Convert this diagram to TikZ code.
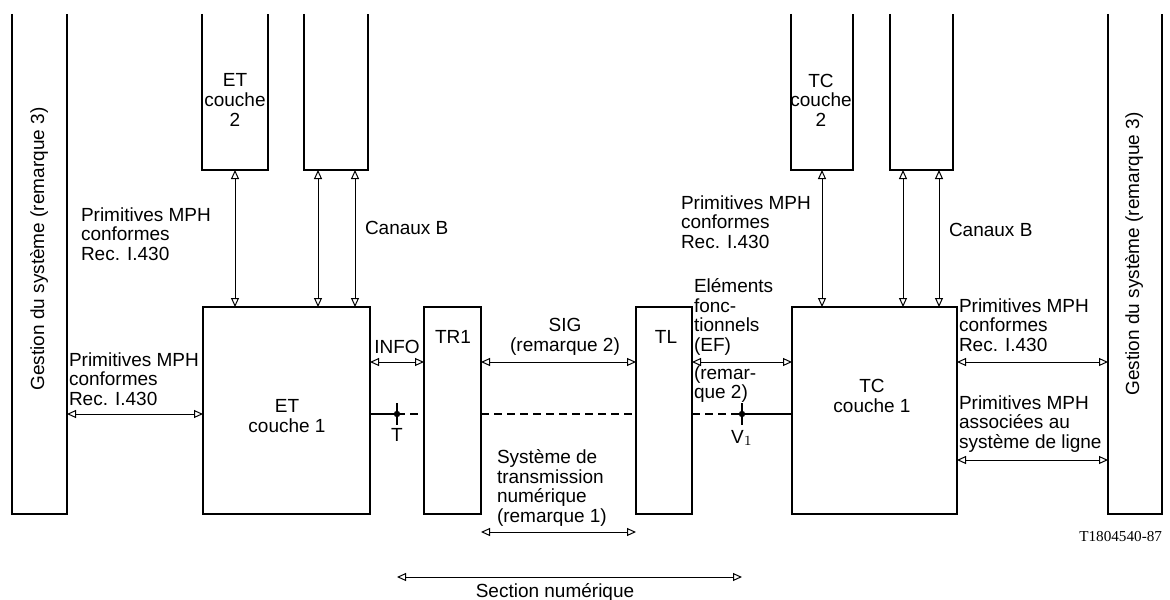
\documentclass[tikz,border=0pt]{standalone}
\usepackage{fontspec}
\setmainfont{Liberation Sans}
\newfontfamily\serialfont{Liberation Serif}
\usetikzlibrary{calc,arrows.meta}

\begin{document}
\begin{tikzpicture}[x=0.5pt,y=-0.5pt,every node/.style={inner sep=0pt,outer sep=0pt,font=\fontsize{9.5}{9.8}\selectfont}]
\tikzstyle{box}=[draw,line width=0.9pt,minimum height=103.5pt]
\tikzstyle{openbox}=[draw=none,minimum height=78pt]
\tikzstyle{bar}=[draw=none,minimum width=27.5pt,minimum height=250pt]
\tikzstyle{link}=[line width=0.5pt,{Triangle[open,length=4.5pt,width=4pt]}-{Triangle[open,length=4.5pt,width=4pt]}]
\tikzstyle{wire}=[line width=0.8pt,dash pattern=on 4pt off 2.5pt]
\tikzstyle{lbl}=[anchor=west,align=left]

\useasboundingbox (0,0) rectangle (1170,599);

% management bars
\node (gestL) [bar] at (39.5,264) {};
\draw [line width=0.9pt] (gestL.north west) |- (gestL.south east) -- (gestL.north east);
\node [rotate=90] at (39,249) {Gestion du système (remarque 3)};

\node (gestR) [bar,minimum width=27pt] at (1135,264) {};
\draw [line width=0.9pt] (gestR.north west) |- (gestR.south east) -- (gestR.north east);
\node [rotate=90] at (1134,254) {Gestion du système (remarque 3)};

% layer 2 and B-channel boxes
\node (et2) [openbox,minimum width=33pt] at (235,92) {};
\draw [line width=0.9pt] (et2.north west) |- (et2.south east) -- (et2.north east);
\node [align=center] at (235,100) {ET\\couche\\2};

\node (etB) [openbox,minimum width=32pt] at (336,92) {};
\draw [line width=0.9pt] (etB.north west) |- (etB.south east) -- (etB.north east);

\node (tc2) [openbox,minimum width=31pt] at (822,92) {};
\draw [line width=0.9pt] (tc2.north west) |- (tc2.south east) -- (tc2.north east);
\node [align=center] at (821,100) {TC\\couche\\2};

\node (tcB) [openbox,minimum width=31.5pt] at (921.5,92) {};
\draw [line width=0.9pt] (tcB.north west) |- (tcB.south east) -- (tcB.north east);

% layer 1 boxes
\node (et1) [box,minimum width=83.5pt] at (286.5,410.5) {};
\node [align=center] at (287,416) {ET\\couche 1};
\node (tr1) [box,minimum width=28.5pt] at (452.5,410.5) {};
\node at (453,337) {TR1};
\node (tl) [box,minimum width=28pt] at (664,410.5) {};
\node at (666,337) {TL};
\node (tc1) [box,minimum width=82.5pt] at (874.5,410.5) {};
\node [align=center] at (872,396) {TC\\couche 1};

% vertical links
\coordinate (etB1) at ($(etB.south west)+(14,0)$);
\coordinate (etB2) at ($(etB.south east)+(-13,0)$);
\coordinate (tcB1) at ($(tcB.south west)+(13,0)$);
\coordinate (tcB2) at ($(tcB.south east)+(-14,0)$);
\draw [link] (et2.south) -- (et2.south |- et1.north);
\draw [link] (etB1) -- (etB1 |- et1.north);
\draw [link] (etB2) -- (etB2 |- et1.north);
\draw [link] (tc2.south) -- (tc2.south |- tc1.north);
\draw [link] (tcB1) -- (tcB1 |- tc1.north);
\draw [link] (tcB2) -- (tcB2 |- tc1.north);

% horizontal links
\coordinate (infoY) at (0,362);
\coordinate (lineY) at (0,414);
\coordinate (lowY) at (0,460);
\draw [link] (gestL.east |- lineY) -- (et1.west |- lineY);
\draw [link] (et1.east |- infoY) -- (tr1.west |- infoY);
\draw [link] (tr1.east |- infoY) -- (tl.west |- infoY);
\draw [link] (tl.east |- infoY) -- (tc1.west |- infoY);
\draw [link] (tc1.east |- infoY) -- (gestR.west |- infoY);
\draw [link] (tc1.east |- lowY) -- (gestR.west |- lowY);

% reference points and line
\coordinate (T) at (397,414);
\coordinate (V1) at (742,414);
\draw [line width=0.8pt] (et1.east |- lineY) -- (T);
\draw [wire] (T) -- (tr1.west |- lineY);
\draw [wire] (tr1.east |- lineY) -- (tl.west |- lineY);
\draw [wire] (tl.east |- lineY) -- (V1);
\draw [line width=0.8pt] (V1) -- (tc1.west |- lineY);
\draw [line width=0.8pt] (T) ++(0,-11) -- +(0,22);
\draw [line width=0.8pt] (V1) ++(0,-11) -- +(0,22);
\fill (T) circle (1.6pt);
\fill (V1) circle (1.6pt);
\node at (397,435) {T};
\node at (742,438) {V$_1$};

% spans
\draw [link] (tr1.east |- 0,532) -- (tl.west |- 0,532);
\draw [link] (T |- 0,577) -- (V1 |- 0,577);

% labels
\node [lbl] at (81,234) {Primitives MPH\\conformes\\Rec. I.430};
\node [lbl] at (365,228) {Canaux B};
\node [lbl] at (69,379) {Primitives MPH\\conformes\\Rec. I.430};
\node at (397,347) {INFO};
\node [align=center] at (565,337) {SIG\\(remarque 2)};
\node [lbl] at (694,317) {Eléments\\fonc-\\tionnels\\(EF)};
\node [lbl] at (694,384) {(remar-\\que 2)};
\node [lbl] at (497,488) {Système de\\transmission\\numérique\\(remarque 1)};
\node at (555,592) {Section numérique};
\node [lbl] at (681,222) {Primitives MPH\\conformes\\Rec. I.430};
\node [lbl] at (949,230) {Canaux B};
\node [lbl] at (959,325) {Primitives MPH\\conformes\\Rec. I.430};
\node [lbl] at (959,424) {Primitives MPH\\associées au\\système de ligne};
\node [anchor=east,font=\serialfont\fontsize{7.6}{9}\selectfont] at (1162,537) {T1804540-87};
\end{tikzpicture}
\end{document}
